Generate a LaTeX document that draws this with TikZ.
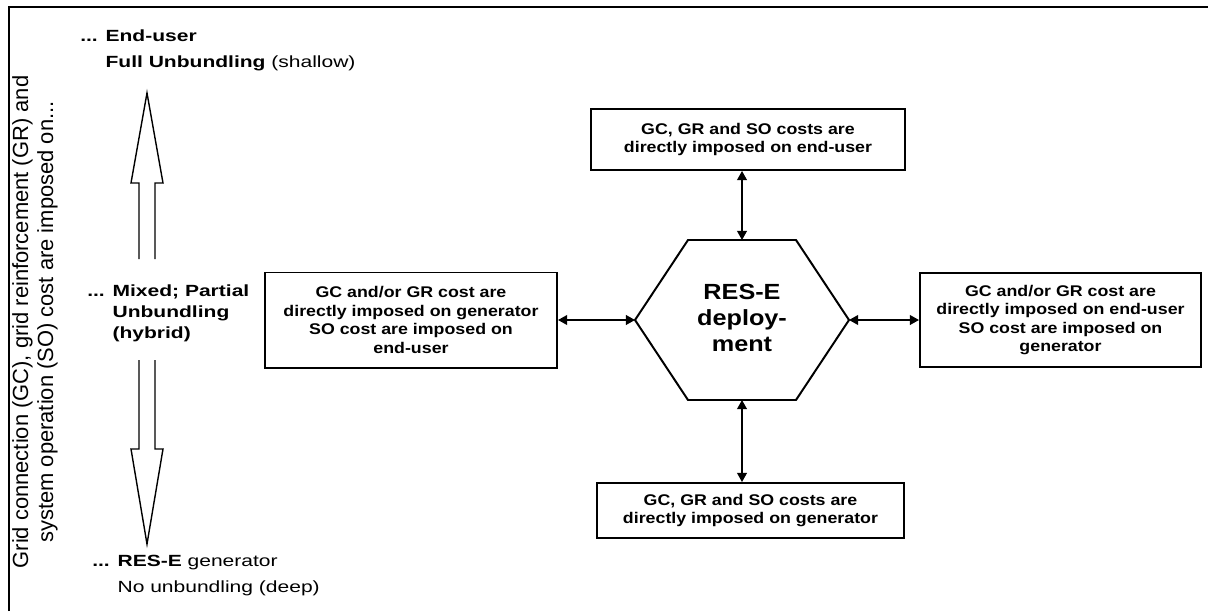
\documentclass[tikz,border=0pt]{standalone}
\usepackage{fontspec}
\setmainfont{Liberation Sans}
\newfontfamily\boxfont{Liberation Sans}[FakeStretch=1.15]
\newfontfamily\lblfont{Liberation Sans}[FakeStretch=1.3]
\usetikzlibrary{arrows.meta,calc}

\begin{document}
\begin{tikzpicture}
  [x=0.025cm, y=-0.025cm,
  costbox/.style={
    draw=black,
    rectangle,
    line width=1.4pt,
    inner sep=0pt,
    align=center,
    font=\boxfont\bfseries\fontsize{11}{13.2}\selectfont},
  hubtext/.style={
    align=center,
    inner sep=0pt,
    font=\boxfont\bfseries\fontsize{15.6}{18.5}\selectfont},
  lvl/.style={
    anchor=west,
    align=left,
    inner sep=0pt,
    font=\lblfont\fontsize{11.5}{16.5}\selectfont},
  link/.style={
    line width=1pt,
    {Triangle[length=6.5pt,width=7pt]}-{Triangle[length=6.5pt,width=7pt]}},
  hollow/.style={
    line width=1pt,
    line join=miter}]

  \useasboundingbox (0,0) rectangle (1208,611);
  \draw [line width=1.5pt] (8.7,611) -- (8.7,6.7) -- (1208,6.7);

  \node [rotate=90, align=center, inner sep=0pt,
    font=\fontsize{15.6}{17.8}\selectfont] at (35,322) (axis) {
    Grid connection (GC), grid reinforcement (GR) and\\
    system operation (SO) cost are imposed on...};

  \node [lvl] at (80,50) (enduser) {
    \textbf{... End-user}\\[2pt]
    \phantom{\textbf{... }}\textbf{Full Unbundling} (shallow)};

  \node [lvl] at (87,313) (mixed) {
    \textbf{... Mixed; Partial}\\[-1.5pt]
    \phantom{\textbf{... }}\textbf{Unbundling}\\[-1.5pt]
    \phantom{\textbf{... }}\textbf{(hybrid)}};

  \node [lvl] at (92,576) (generator) {
    \textbf{... RES-E} generator\\[2pt]
    \phantom{\textbf{... }}No unbundling (deep)};

  \draw [hollow] (139,259) -- (139,183) -- (131,183) -- (147,93)
    -- (163,183) -- (155,183) -- (155,259);
  \draw [hollow] (139,360) -- (139,449) -- (131,449) -- (147,544)
    -- (163,449) -- (155,449) -- (155,360);

  \node [hubtext] at (742,318) (hub) {RES-E\\deploy-\\ment};
  \draw [line width=1.4pt, line join=miter] (hub.center)
    ++(-107,2) coordinate (hubW) -- ++(53,80) coordinate (hubSW)
    -- ++(108,0) coordinate (hubSE) -- ++(53,-80) coordinate (hubE)
    -- ++(-53,-80) coordinate (hubNE) -- ++(-108,0) coordinate (hubNW)
    -- cycle;
  \coordinate (hubN) at ($(hubNW)!0.5!(hubNE)$);
  \coordinate (hubS) at ($(hubSW)!0.5!(hubSE)$);

  \node [costbox, minimum width=7.85cm, minimum height=1.525cm]
    at (748,139.5) (topbox) {
    GC, GR and SO costs are\\
    directly imposed on end-user};

  \node [costbox, minimum width=7.3cm, minimum height=2.375cm]
    at (411,320) (leftbox) {
    GC and/or GR cost are\\
    directly imposed on generator\\
    SO cost are imposed on\\
    end-user};

  \node [costbox, minimum width=7.025cm, minimum height=2.35cm]
    at (1060.5,320) (rightbox) {
    GC and/or GR cost are\\
    directly imposed on end-user\\
    SO cost are imposed on\\
    generator};

  \node [costbox, minimum width=7.675cm, minimum height=1.375cm]
    at (750.5,510.5) (botbox) {
    GC, GR and SO costs are\\
    directly imposed on generator};

  \draw [link] (hubN) -- (hubN |- topbox.south);
  \draw [link] (hubS) -- (hubS |- botbox.north);
  \draw [link] (leftbox.east) -- (hubW);
  \draw [link] (hubE) -- (rightbox.west);
\end{tikzpicture}
\end{document}
